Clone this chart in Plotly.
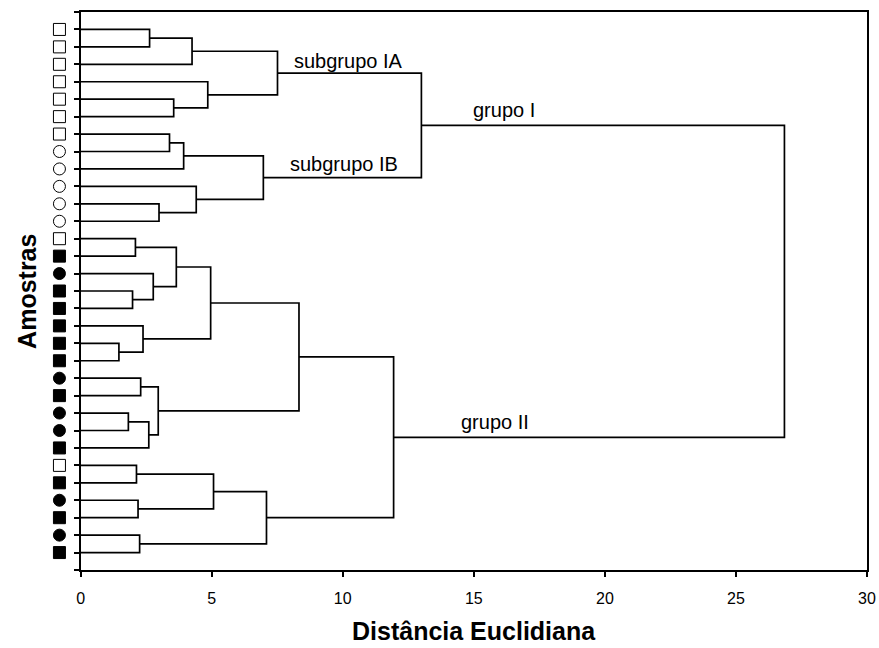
import plotly.graph_objects as go

# ---------------- data ----------------
# sample symbols, top to bottom (31 leaves)
leaf_symbols = ["sq_open"] * 7 + ["ci_open"] * 5 + [
    "sq_open", "sq", "ci", "sq", "sq", "sq", "sq", "sq", "ci", "sq",
    "ci", "ci", "sq", "sq_open", "sq", "ci", "sq", "ci", "sq"]

# merges: (child_a, child_b, distance); leaves 0..30, merged clusters 31..
merge_a = [0, 31, 4, 3, 32, 6, 36, 10, 9, 37, 35,
           12, 15, 14, 42, 18, 17, 45, 20, 22, 50, 49, 48,
           25, 27, 54, 29, 56, 53, 41]
merge_b = [1, 2, 5, 33, 34, 7, 8, 11, 38, 39, 40,
           13, 16, 43, 44, 19, 46, 47, 21, 23, 24, 51, 52,
           26, 28, 55, 30, 57, 58, 59]
merge_h = [2.63, 4.25, 3.55, 4.85, 7.51, 3.39, 3.93, 2.99, 4.41, 6.97, 13.0,
           2.09, 1.98, 2.77, 3.65, 1.46, 2.38, 4.96, 2.29, 1.82, 2.60, 2.96, 8.33,
           2.13, 2.19, 5.07, 2.25, 7.09, 11.94, 26.85]

# group labels: (text, cluster id)
label_text = ["subgrupo IA", "subgrupo IB", "grupo I", "grupo II"]
label_node = [35, 40, 41, 59]
label_x = [10.2, 10.05, 16.17, 15.8]

x_ticks = [0, 5, 10, 15, 20, 25, 30]
x_title = "Distância Euclidiana"
y_title = "Amostras"

# ---------------- styles ----------------
FONT = "Liberation Sans, Arial, Helvetica, sans-serif"
W, H = 879, 648
LEFT, RIGHT, TOP, BOTTOM = 77, 12, 12, 78
PAPER_W = W - RIGHT
label_yshift = [12.5, 13.9, 15.7, 15.0]
SYMBOL_X = 55.7  # pixel column (in the left strip axis)
sym_map = {"sq_open": "square-open", "ci_open": "circle-open",
           "sq": "square", "ci": "circle"}

# ---------------- build dendrogram ----------------
n_leaves = len(leaf_symbols)
node_y = {i: i + 1 for i in range(n_leaves)}
node_h = {i: 0.0 for i in range(n_leaves)}
xs, ys = [], []
for k, (a, b, h) in enumerate(zip(merge_a, merge_b, merge_h)):
    nid = n_leaves + k
    ya, yb = node_y[a], node_y[b]
    xs += [node_h[a], h, h, node_h[b], None]
    ys += [ya, ya, yb, yb, None]
    node_y[nid] = (ya + yb) / 2
    node_h[nid] = h

fig = go.Figure()
fig.add_trace(go.Scatter(x=xs, y=ys, mode="lines",
                         line=dict(color="black", width=1.7),
                         hoverinfo="skip", showlegend=False))

fig.add_trace(go.Scatter(
    x=[SYMBOL_X] * n_leaves, y=list(range(1, n_leaves + 1)), mode="markers",
    xaxis="x2", yaxis="y",
    marker=dict(symbol=[sym_map[s] for s in leaf_symbols], size=12,
                color="black", line=dict(color="black", width=1)),
    cliponaxis=False, showlegend=False, hoverinfo="skip"))

for t, nd, lx, ysh in zip(label_text, label_node, label_x, label_yshift):
    fig.add_annotation(x=lx, y=node_y[nd], text=t, showarrow=False,
                       xanchor="center", yanchor="middle", yshift=ysh,
                       font=dict(family=FONT, size=20, color="black"))

fig.add_annotation(xref="x domain", yref="paper", x=0.5, y=-0.1095,
                   text="<b>" + x_title + "</b>", showarrow=False,
                   xanchor="center", yanchor="middle",
                   font=dict(family=FONT, size=25, color="black"))
fig.add_annotation(xref="paper", yref="paper", x=23 / PAPER_W, y=0.5,
                   text="<b>" + y_title + "</b>", showarrow=False,
                   textangle=-90, xanchor="center", yanchor="middle",
                   font=dict(family=FONT, size=25, color="black"))

fig.update_layout(
    width=W, height=H,
    margin=dict(l=0, r=RIGHT, t=TOP, b=BOTTOM),
    paper_bgcolor="white", plot_bgcolor="white",
    font=dict(family=FONT, color="black"),
    xaxis=dict(domain=[LEFT / PAPER_W, 1], range=[0, 30], tickvals=x_ticks,
               ticks="outside", ticklen=5, tickwidth=1.5, tickcolor="black",
               showline=True, linewidth=2, linecolor="black", mirror=True,
               showgrid=False, zeroline=False,
               tickfont=dict(size=16, color="black"), ticklabelstandoff=8),
    xaxis2=dict(domain=[0, LEFT / PAPER_W], range=[0, LEFT], visible=False,
                anchor="y", fixedrange=True),
    yaxis=dict(range=[32, 0], tickvals=list(range(0, 33)), ticks="outside",
               ticklen=5, tickwidth=1.5, tickcolor="black", anchor="x",
               showticklabels=False, showline=True, linewidth=2,
               linecolor="black", mirror=True, showgrid=False, zeroline=False),
)

fig.write_html("out.html")
